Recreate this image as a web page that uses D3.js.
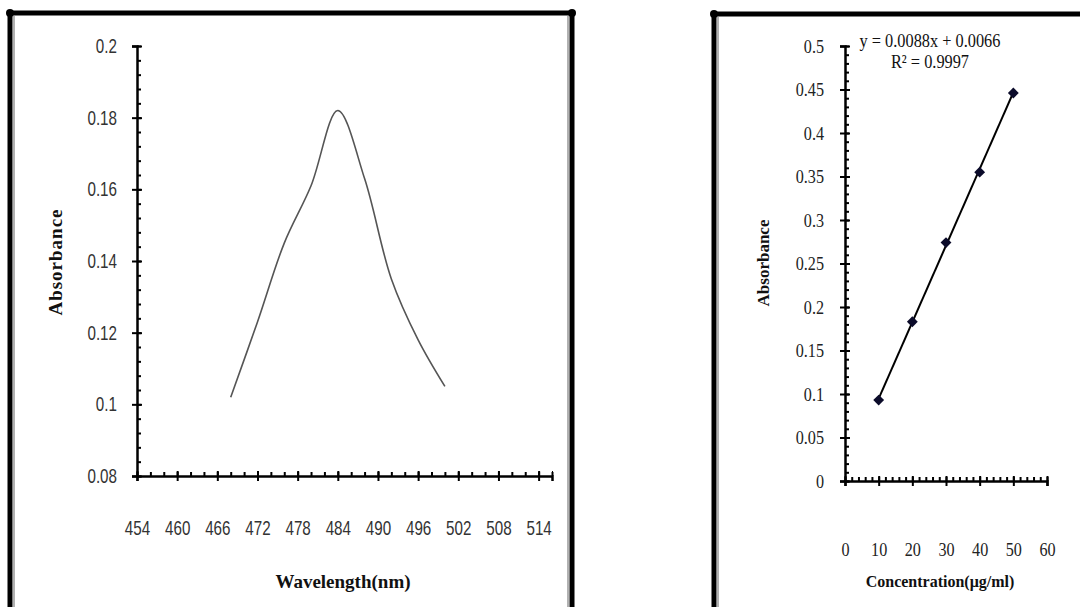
<!DOCTYPE html>
<html lang="en">
<head>
    <meta charset="UTF-8">
    <title>Absorbance spectrum and calibration curve</title>
    <style>
        body { margin: 0; background: #fff; }
        svg { display: block; }
        .tick-l text { font-family: 'Liberation Sans', sans-serif; font-size: 20px; fill: #333; }
        .tick-r text { font-family: 'Liberation Serif', serif; font-size: 19px; fill: #222; }
        .title { font-family: 'Liberation Serif', serif; font-weight: bold; fill: #111; }
        .eq { font-family: 'Liberation Serif', serif; font-size: 19px; fill: #111; }
    </style>
</head>
<body>
    <svg id="chart" width="1080" height="607"></svg>

    <script src="https://d3js.org/d3.v7.min.js"></script>
    <script>
        // spectrum (left)
        const wavelength = [468, 472, 476, 480, 484, 488, 492, 496, 500];
        const absorbance = [0.102, 0.123, 0.145, 0.161, 0.182, 0.163, 0.135, 0.118, 0.105];
        const spectrumXTicks = [454, 460, 466, 472, 478, 484, 490, 496, 502, 508, 514];
        const spectrumYTicks = [0.08, 0.1, 0.12, 0.14, 0.16, 0.18, 0.2];

        // calibration (right)
        const concentration = [10, 20, 30, 40, 50];
        const calAbsorbance = [0.093, 0.183, 0.274, 0.355, 0.446];
        const calXTicks = [0, 10, 20, 30, 40, 50, 60];
        const calYTicks = [0, 0.05, 0.1, 0.15, 0.2, 0.25, 0.3, 0.35, 0.4, 0.45, 0.5];
        const slope = 0.0088, intercept = 0.0066;
        const equationText = ["y = 0.0088x + 0.0066", "R² = 0.9997"];

        const svg = d3.select("#chart");
        const fmt = d => String(+d.toFixed(3));

        // squeeze text horizontally (the original uses a narrow face)
        function narrow(texts, k) {
            texts.each(function () {
                const t = d3.select(this);
                const x = +t.attr("x") || 0;
                t.attr("x", 0).attr("transform", `translate(${x},0) scale(${k},1)`);
            });
        }

        // panel frames: thick black line with a thin grey line inside
        function frame(x0, x1, top, sides) {
            const g = svg.append("g");
            g.append("line").attr("x1", x0).attr("x2", x1).attr("y1", top).attr("y2", top)
                .attr("stroke", "#000").attr("stroke-width", 5);
            sides.forEach(s => {
                g.append("line").attr("x1", s.x).attr("x2", s.x).attr("y1", top).attr("y2", 607)
                    .attr("stroke", "#000").attr("stroke-width", 5);
                g.append("line").attr("x1", s.x + s.inner).attr("x2", s.x + s.inner).attr("y1", top + 3).attr("y2", 607)
                    .attr("stroke", "#999").attr("stroke-width", 1.5);
                g.append("circle").attr("cx", s.x).attr("cy", top).attr("r", 4).attr("fill", "#000");
            });
        }
        frame(7, 575, 13, [{ x: 10, inner: 4 }, { x: 572, inner: -4 }]);
        frame(713, 1080, 14, [{ x: 714, inner: 4 }]);

        function minorRange(a, b, step) {
            return d3.range(Math.round((b - a) / step) + 1).map(i => +(a + i * step).toFixed(4));
        }

        function drawAxes(x, y, opt) {
            const [x0] = x.range(), [y0] = y.range();
            // minor ticks inside the plot
            svg.append("g").attr("transform", `translate(${x0},0)`)
                .call(d3.axisRight(y).tickValues(minorRange(...y.domain(), opt.yMinor)).tickSize(4).tickFormat(""))
                .call(g => g.selectAll("line").attr("stroke-width", 2));
            svg.append("g").attr("transform", `translate(0,${y0})`)
                .call(d3.axisTop(x).tickValues(minorRange(...x.domain(), opt.xMinor)).tickSize(4).tickFormat(""))
                .call(g => g.selectAll("line").attr("stroke-width", 2));
            // major ticks crossing the axis
            svg.append("g").attr("transform", `translate(${x0},0)`)
                .call(d3.axisRight(y).tickValues(opt.yTicks).tickSize(5).tickFormat(""))
                .call(g => g.selectAll("line").attr("stroke-width", 2));
            svg.append("g").attr("transform", `translate(0,${y0})`)
                .call(d3.axisTop(x).tickValues(opt.xTicks).tickSize(5).tickFormat(""))
                .call(g => g.selectAll("line").attr("stroke-width", 2));
            svg.append("g").attr("class", opt.cls).attr("transform", `translate(${x0},0)`)
                .call(d3.axisLeft(y).tickValues(opt.yTicks).tickSize(5).tickPadding(opt.yPad).tickFormat(fmt))
                .call(g => g.selectAll("line").attr("stroke-width", 2))
                .call(g => g.select(".domain").attr("stroke-width", 2.5))
                .call(g => g.selectAll("text").attr("font-family", null).attr("font-size", null))
                .call(g => narrow(g.selectAll("text"), opt.squeeze));
            svg.append("g").attr("class", opt.cls).attr("transform", `translate(0,${y0})`)
                .call(d3.axisBottom(x).tickValues(opt.xTicks).tickSize(5).tickPadding(opt.xPad).tickFormat(fmt))
                .call(g => g.selectAll("line").attr("stroke-width", 2))
                .call(g => g.select(".domain").attr("stroke-width", 2.5))
                .call(g => g.selectAll("text").attr("font-family", null).attr("font-size", null))
                .call(g => narrow(g.selectAll("text"), opt.squeeze));
            svg.selectAll(".domain").attr("stroke", "#000");
        }

        // ---- left: spectrum ----
        const xL = d3.scaleLinear().domain([454, 516]).range([137, 552]);
        const yL = d3.scaleLinear().domain([0.08, 0.2]).range([476, 46]);
        drawAxes(xL, yL, { xTicks: spectrumXTicks, yTicks: spectrumYTicks, xMinor: 2, yMinor: 0.004, xPad: 40, yPad: 15, cls: "tick-l", squeeze: 0.76 });

        svg.append("path")
            .datum(wavelength.map((w, i) => [w, absorbance[i]]))
            .attr("fill", "none").attr("stroke", "#555").attr("stroke-width", 1.6)
            .attr("d", d3.line().x(d => xL(d[0])).y(d => yL(d[1])).curve(d3.curveCatmullRom.alpha(0.5)));

        svg.append("text").attr("class", "title").attr("font-size", 19).attr("letter-spacing", 1)
            .attr("text-anchor", "middle").attr("transform", "translate(62,262) rotate(-90)").text("Absorbance");
        svg.append("text").attr("class", "title").attr("font-size", 19)
            .attr("text-anchor", "middle").attr("x", 343).attr("y", 588).text("Wavelength(nm)");

        // ---- right: calibration ----
        const xR = d3.scaleLinear().domain([0, 60]).range([845, 1047]);
        const yR = d3.scaleLinear().domain([0, 0.5]).range([481, 46]);
        drawAxes(xR, yR, { xTicks: calXTicks, yTicks: calYTicks, xMinor: 2, yMinor: 0.01, xPad: 57, yPad: 16, cls: "tick-r", squeeze: 0.85 });

        const xMin = d3.min(concentration), xMax = d3.max(concentration);
        svg.append("line")
            .attr("x1", xR(xMin)).attr("y1", yR(slope * xMin + intercept))
            .attr("x2", xR(xMax)).attr("y2", yR(slope * xMax + intercept))
            .attr("stroke", "#000").attr("stroke-width", 2);

        svg.append("g").selectAll("path")
            .data(concentration.map((c, i) => [c, calAbsorbance[i]]))
            .join("path")
            .attr("transform", d => `translate(${xR(d[0])},${yR(d[1])})`)
            .attr("d", d3.symbol(d3.symbolDiamond2, 75))
            .attr("fill", "#0b0b2a");

        svg.append("g").selectAll("text")
            .data(equationText)
            .join("text").attr("class", "eq")
            .attr("transform", (d, i) => `translate(930,${47 + i * 21}) scale(0.86,1)`)
            .attr("text-anchor", "middle").text(d => d);

        svg.append("text").attr("class", "title").attr("font-size", 17)
            .attr("text-anchor", "middle").attr("transform", "translate(769,263) rotate(-90)").text("Absorbance");
        svg.append("text").attr("class", "title").attr("font-size", 16)
            .attr("text-anchor", "middle").attr("x", 940).attr("y", 587).text("Concentration(μg/ml)");
    </script>
</body>
</html>
